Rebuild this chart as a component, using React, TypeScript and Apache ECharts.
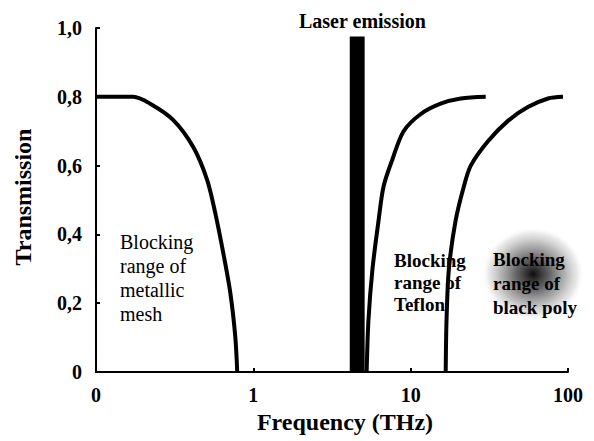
import React, { useEffect, useRef } from "react";
import * as echarts from "echarts";

// Data (frequency in THz, transmission 0..1)
const meshFreq = [0.1, 0.172, 0.221, 0.309, 0.415, 0.509, 0.573, 0.644, 0.714, 0.768, 0.79];
const meshTrans = [0.8, 0.8, 0.78, 0.733, 0.654, 0.558, 0.462, 0.346, 0.23, 0.102, 0];

const teflonFreq = [5.25, 5.39, 5.72, 6.25, 6.73, 7.68, 9.02, 11.6, 15.5, 20.8, 30.0];
const teflonTrans = [0, 0.15, 0.3, 0.44, 0.54, 0.62, 0.7, 0.75, 0.78, 0.795, 0.8];

const polyFreq = [16.7, 16.9, 17.5, 19.3, 21.8, 24.1, 30.9, 41.5, 55.6, 74.6, 92.9];
const polyTrans = [0, 0.15, 0.3, 0.44, 0.54, 0.6, 0.67, 0.73, 0.77, 0.795, 0.8];

const laserFreq = [4.1, 5.1];
const laserTrans = [0.975, 0.975];

const xTickValues = [0.1, 1, 10, 100];
const xTickLabels = ["0", "1", "10", "100"];
const yTickLabels = ["0", "0,2", "0,4", "0,6", "0,8", "1,0"];

const zip = (xs: number[], ys: number[]) => xs.map((x, i) => [x, ys[i]]);

const SERIF = "'Liberation Serif', 'DejaVu Serif', serif";

export default function App() {
  const ref = useRef<HTMLDivElement>(null);
  useEffect(() => {
    if (!ref.current) return;
    const chart = echarts.init(ref.current, undefined, { renderer: "svg" });
    const curve = (name: string, data: number[][]) => ({
      name,
      type: "line",
      data,
      smooth: 0.3,
      showSymbol: false,
      symbol: "none",
      lineStyle: { color: "#000", width: 4 },
      z: 3,
    });
    chart.setOption({
      animation: false,
      backgroundColor: "#fff",
      grid: { left: 96, right: 26, top: 28, bottom: 69, containLabel: false },
      xAxis: {
        type: "log",
        logBase: 10,
        min: 0.1,
        max: 100,
        name: "Frequency (THz)",
        nameLocation: "middle",
        nameGap: 38,
        nameTextStyle: {
          fontFamily: SERIF,
          fontWeight: "bold",
          fontSize: 24,
          color: "#000",
          padding: [0, 0, 0, 26],
        },
        axisLine: { show: true, lineStyle: { color: "#000", width: 2 } },
        axisTick: { show: true, inside: true, length: 4, lineStyle: { color: "#000", width: 2 } },
        minorTick: { show: false },
        splitLine: { show: false },
        axisLabel: {
          margin: 13,
          fontFamily: SERIF,
          fontWeight: "bold",
          fontSize: 20,
          color: "#000",
          formatter: (v: number) => {
            const idx = xTickValues.findIndex((t) => Math.abs(Math.log10(t) - Math.log10(v)) < 1e-6);
            return idx >= 0 ? xTickLabels[idx] : "";
          },
        },
      },
      yAxis: {
        type: "value",
        min: 0,
        max: 1,
        interval: 0.2,
        name: "Transmission",
        nameLocation: "middle",
        nameGap: 61,
        nameTextStyle: {
          fontFamily: SERIF,
          fontWeight: "bold",
          fontSize: 24,
          color: "#000",
          padding: [0, 0, 0, 6],
        },
        axisLine: { show: true, lineStyle: { color: "#000", width: 2 } },
        axisTick: { show: true, inside: true, length: 4, lineStyle: { color: "#000", width: 2 } },
        splitLine: { show: false },
        axisLabel: {
          margin: 14,
          fontFamily: SERIF,
          fontWeight: "bold",
          fontSize: 20,
          color: "#000",
          formatter: (v: number) => yTickLabels[Math.round(v / 0.2)] ?? "",
        },
      },
      series: [
        curve("Metallic mesh", zip(meshFreq, meshTrans)),
        curve("Teflon", zip(teflonFreq, teflonTrans)),
        curve("Black poly", zip(polyFreq, polyTrans)),
        {
          name: "Laser emission",
          type: "line",
          data: zip(laserFreq, laserTrans),
          showSymbol: false,
          symbol: "none",
          lineStyle: { width: 0, color: "#000" },
          areaStyle: { color: "#000", opacity: 1, origin: "start" },
          z: 2,
        },
      ],
      graphic: [
        {
          type: "ellipse",
          shape: { cx: 533, cy: 274, rx: 50, ry: 46 },
          style: {
            fill: new echarts.graphic.RadialGradient(0.5, 0.5, 0.5, [
              { offset: 0, color: "rgba(0,0,0,0.95)" },
              { offset: 0.35, color: "rgba(40,40,40,0.7)" },
              { offset: 0.65, color: "rgba(90,90,90,0.45)" },
              { offset: 0.88, color: "rgba(140,140,140,0.2)" },
              { offset: 1, color: "rgba(200,200,200,0)" },
            ]),
          },
          z: 1,
        },
        {
          type: "text",
          left: 362 - 63,
          top: 11,
          style: {
            text: "Laser emission",
            fontFamily: SERIF,
            fontWeight: "bold",
            fontSize: 20,
            fill: "#000",
          },
          z: 10,
        },
        {
          type: "text",
          x: 120,
          y: 230,
          style: {
            text: "Blocking\nrange of\nmetallic\nmesh",
            fontFamily: SERIF,
            fontSize: 20,
            lineHeight: 24,
            fill: "#000",
          },
          z: 10,
        },
        {
          type: "text",
          x: 394,
          y: 249,
          style: {
            text: "Blocking\nrange of\nTeflon",
            fontFamily: SERIF,
            fontWeight: "bold",
            fontSize: 19,
            lineHeight: 22,
            fill: "#000",
          },
          z: 10,
        },
        {
          type: "text",
          x: 493,
          y: 247,
          style: {
            text: "Blocking\nrange of\nblack poly",
            fontFamily: SERIF,
            fontWeight: "bold",
            fontSize: 19,
            lineHeight: 24,
            fill: "#000",
          },
          z: 10,
        },
      ],
    });
    return () => chart.dispose();
  }, []);
  return (
    <div
      ref={ref}
      style={{ position: "fixed", left: 0, top: 0, width: 594, height: 441, background: "#fff" }}
    />
  );
}
